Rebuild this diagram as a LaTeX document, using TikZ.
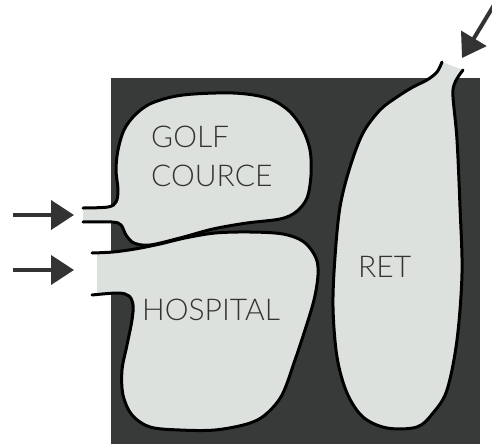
\documentclass[tikz,border=0pt]{standalone}
\usepackage{fontspec}
\IfFontExistsTF{Lato Light}{\setmainfont{Lato Light}}{\setmainfont{Lato}}
\usetikzlibrary{arrows.meta}
\definecolor{darkbg}{HTML}{383A39}
\definecolor{pale}{HTML}{DDE1DE}
\definecolor{ink}{HTML}{333333}
\tikzset{
  outline/.style={draw=black,line width=3pt,line cap=round,line join=round},
  area/.style={fill=pale},
  lbl/.style={text=ink,font=\fontsize{30}{30}\selectfont,inner sep=0pt,anchor=base west},
  flow/.style={draw=ink,line width=4pt,-{Triangle[length=23pt,width=29pt]}}
}
\begin{document}
\begin{tikzpicture}[x=1pt,y=-1pt]
\useasboundingbox (0,0) rectangle (492,444);
\fill[darkbg] (111,78) rectangle (480,444);
% golf course
\def\golf{(83,208) (108,207) (116,202) (118,190) (116,170) (118,150) (124,130) (135,115) (152,103) (183,95) (233,93) (267,98) (288,110) (302,128) (310,150) (311,175) (307,198) (296,212) (280,219) (247,223) (213,229) (180,238) (150,245) (134,243) (126,235) (121,225) (112,222) (83,222)}
\fill[area] plot[smooth,tension=0.55] coordinates {\golf} -- cycle;
\draw[outline] plot[smooth,tension=0.55] coordinates {\golf};
% hospital
\def\hosp{(92,253) (113,252) (135,249) (160,244) (185,238) (215,233) (250,232) (283,234) (304,242) (316,258) (318,275) (314,300) (305,330) (295,360) (282,395) (265,415) (247,424) (215,430) (180,430) (150,427) (132,415) (123,395) (122,370) (127,345) (132,320) (133,305) (129,296) (118,293) (92,295)}
\fill[area] (97,253) -- plot[smooth,tension=0.55] coordinates {\hosp} -- (97,295) -- cycle;
\draw[outline] plot[smooth,tension=0.55] coordinates {\hosp};
% ret
\def\ret{(442,62) (437,72) (427,80) (413,87) (397,97) (380,110) (363,133) (350,167) (340,207) (335,257) (333,307) (337,357) (347,393) (363,417) (387,428) (417,427) (433,413) (447,390) (457,340) (462,273) (460,207) (457,140) (453,97) (454,85) (458,77) (463,70)}
\fill[area] plot[smooth,tension=0.55] coordinates {\ret} -- cycle;
\draw[outline] plot[smooth,tension=0.55] coordinates {\ret};
% labels
\node[lbl] (golf) at (151,147) {GOLF};
\node[lbl] (cource) at (151,186) {COURCE};
\node[lbl] (hospital) at (142,320) {HOSPITAL};
\node[lbl] (retl) at (358,277) {RET};
% arrows
\coordinate (a1s) at (13,215);
\coordinate (a1t) at (74,215);
\coordinate (a2s) at (13,270);
\coordinate (a2t) at (74,270);
\coordinate (a3s) at (494,5);
\coordinate (a3t) at (462,58);
\draw[flow] (a1s) -- (a1t);
\draw[flow] (a2s) -- (a2t);
\draw[flow] (a3s) -- (a3t);
\end{tikzpicture}
\end{document}
